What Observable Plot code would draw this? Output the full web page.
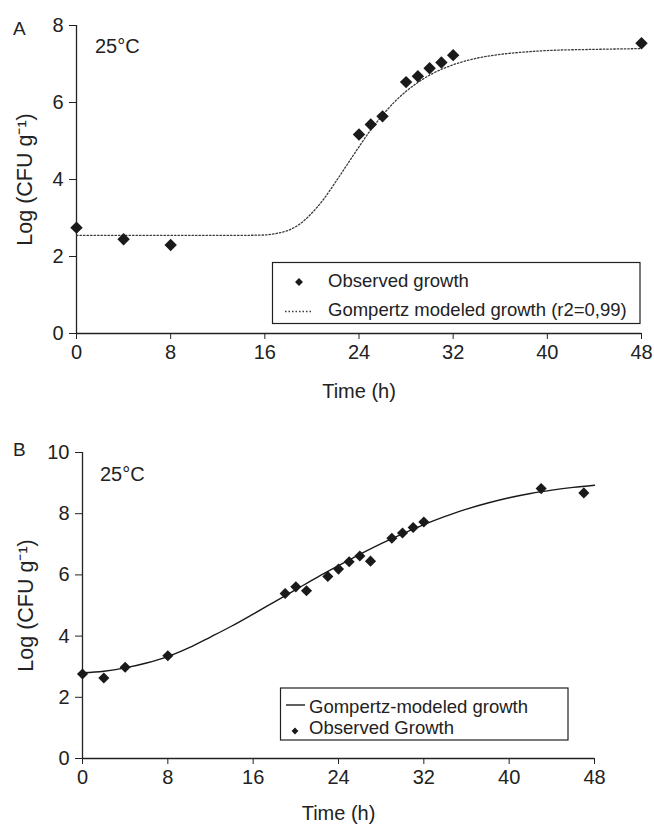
<!DOCTYPE html>
<html>
<head>
<meta charset="utf-8">
<script src="https://cdn.jsdelivr.net/npm/d3@7"></script>
<script src="https://cdn.jsdelivr.net/npm/@observablehq/plot@0.6"></script>
<style>
  body { margin: 0; background: #fff; }
  #wrap { width: 654px; font-family: "Liberation Sans", Arial, sans-serif; }
  #wrap svg { display: block; }
</style>
</head>
<body>
<div id="wrap"></div>
<script>
// ---------- Data ----------
const xTicks = [0, 8, 16, 24, 32, 40, 48];
const yTicksA = [0, 2, 4, 6, 8];
const yTicksB = [0, 2, 4, 6, 8, 10];

// Panel A: observed
const timeA = [0, 4, 8, 24, 25, 26, 28, 29, 30, 31, 32, 48];
const obsA  = [2.75, 2.45, 2.30, 5.17, 5.43, 5.64, 6.53, 6.68, 6.89, 7.04, 7.23, 7.54];
// Panel A: Gompertz model curve
const modelTimeA = [0, 4, 8, 12, 14, 16, 17, 18, 19, 20, 21, 22, 23, 24, 25, 26, 27, 28, 29, 30, 32, 34, 36, 38, 40, 44, 48];
const modelA     = [2.55, 2.55, 2.55, 2.55, 2.55, 2.56, 2.60, 2.68, 2.85, 3.13, 3.49, 3.93, 4.39, 4.85, 5.29, 5.67, 6.01, 6.29, 6.52, 6.71, 6.98, 7.15, 7.25, 7.31, 7.35, 7.38, 7.40];

// Panel B: observed
const timeB = [0, 2, 4, 8, 19, 20, 21, 23, 24, 25, 26, 27, 29, 30, 31, 32, 43, 47];
const obsB  = [2.76, 2.63, 2.98, 3.36, 5.39, 5.61, 5.48, 5.95, 6.19, 6.43, 6.62, 6.45, 7.20, 7.37, 7.55, 7.73, 8.82, 8.68];
// Panel B: Gompertz model curve
const modelTimeB = [0, 2, 4, 6, 8, 10, 12, 14, 16, 18, 20, 22, 24, 26, 28, 30, 32, 34, 36, 38, 40, 42, 44, 46, 48];
const modelB     = [2.80, 2.85, 2.96, 3.12, 3.33, 3.62, 3.97, 4.33, 4.72, 5.12, 5.52, 5.92, 6.30, 6.67, 7.02, 7.34, 7.64, 7.91, 8.15, 8.35, 8.52, 8.66, 8.77, 8.86, 8.93];

const FONT = '"Liberation Sans", Arial, sans-serif';
const INK = "#222";
const rows = (ts, vs) => ts.map((t, i) => ({t, v: vs[i]}));

function panel(o) {
  return Plot.plot({
    width: 654,
    height: o.height,
    marginTop: o.mt, marginBottom: o.mb, marginLeft: o.ml, marginRight: o.mr,
    style: {fontFamily: FONT, fontSize: "20px", color: INK, background: "#fff", overflow: "visible"},
    x: {domain: [0, 48]},
    y: {domain: [0, o.yMax]},
    marks: [
      Plot.axisX({ticks: xTicks, tickSize: 6, tickPadding: 5, fontSize: 20, label: "Time (h)", labelAnchor: "center",
                  labelOffset: o.xLabelOffset, labelArrow: "none"}),
      Plot.axisY({ticks: o.yTicks, tickSize: 7, tickPadding: 6, fontSize: 20, label: "Log (CFU g⁻¹)", labelAnchor: "center",
                  labelOffset: o.yLabelOffset, labelArrow: "none"}),
      Plot.ruleY([0], {stroke: INK, strokeWidth: 1.3}),
      Plot.ruleX([0], {stroke: INK, strokeWidth: 1.3}),
      Plot.line(rows(o.modelT, o.model), {x: "t", y: "v", curve: "monotone-x",
                stroke: o.lineStroke, strokeWidth: o.lineWidth, strokeDasharray: o.dash}),
      Plot.dot(rows(o.obsT, o.obs), {x: "t", y: "v", symbol: "diamond2", r: o.dotR, fill: "#1a1a1a", stroke: "none"})
    ]
  });
}

const wrap = document.getElementById("wrap");

// ---------- Panel A ----------
const svgA = panel({
  height: 410, mt: 25, mb: 77, ml: 76, mr: 13, yMax: 8, yTicks: yTicksA,
  xLabelOffset: 64, yLabelOffset: 60,
  modelT: modelTimeA, model: modelA, lineStroke: "#3a3a3a", lineWidth: 1.3, dash: "1.5,2",
  obsT: timeA, obs: obsA, dotR: 5.6
});
wrap.appendChild(svgA);

// ---------- Panel B ----------
const svgB = panel({
  height: 417, mt: 42, mb: 69, ml: 82, mr: 60, yMax: 10, yTicks: yTicksB,
  xLabelOffset: 61, yLabelOffset: 65,
  modelT: modelTimeB, model: modelB, lineStroke: "#1a1a1a", lineWidth: 1.4, dash: null,
  obsT: timeB, obs: obsB, dotR: 5
});
wrap.appendChild(svgB);

// slightly larger rotated y-axis titles, as in the reference
for (const svg of [svgA, svgB]) {
  d3.select(svg).selectAll('g[aria-label="y-axis label"]').attr("font-size", 21.5)
    .selectAll("text").attr("font-size", 21.5);
}

// ---------- Annotations & legends ----------
function addText(svg, x, y, s, size) {
  d3.select(svg).append("text").attr("x", x).attr("y", y)
    .attr("text-anchor", "start")
    .style("font-family", FONT).style("font-size", size).attr("fill", INK).text(s);
}
const diamond = size => d3.symbol(d3.symbolDiamond2, size)();

// Panel A
addText(svgA, 13, 35, "A", "19px");
addText(svgA, 95, 52.5, "25°C", "20px");
{
  const g = d3.select(svgA).append("g");
  g.append("rect").attr("x", 272.5).attr("y", 262.5).attr("width", 367.5).attr("height", 61)
    .attr("fill", "#fff").attr("stroke", INK).attr("stroke-width", 1.2);
  g.append("path").attr("d", diamond(40)).attr("transform", "translate(299,282)").attr("fill", "#1a1a1a");
  g.append("line").attr("x1", 285).attr("x2", 311).attr("y1", 311.5).attr("y2", 311.5)
    .attr("stroke", "#3a3a3a").attr("stroke-width", 1.3).attr("stroke-dasharray", "1.5,2");
}
addText(svgA, 328, 287, "Observed growth", "18.5px");
addText(svgA, 328, 316, "Gompertz modeled growth (r2=0,99)", "18.5px");

// Panel B
addText(svgB, 13, 46, "B", "19px");
addText(svgB, 100, 71, "25°C", "20px");
{
  const g = d3.select(svgB).append("g");
  g.append("rect").attr("x", 280.5).attr("y", 278).attr("width", 287.5).attr("height", 52)
    .attr("fill", "#fff").attr("stroke", INK).attr("stroke-width", 1.2);
  g.append("line").attr("x1", 286).attr("x2", 305).attr("y1", 295).attr("y2", 295)
    .attr("stroke", "#1a1a1a").attr("stroke-width", 1.4);
  g.append("path").attr("d", diamond(30)).attr("transform", "translate(295,321)").attr("fill", "#1a1a1a");
}
addText(svgB, 309, 303, "Gompertz-modeled growth", "18.5px");
addText(svgB, 309, 324, "Observed Growth", "18.5px");
</script>
</body>
</html>
